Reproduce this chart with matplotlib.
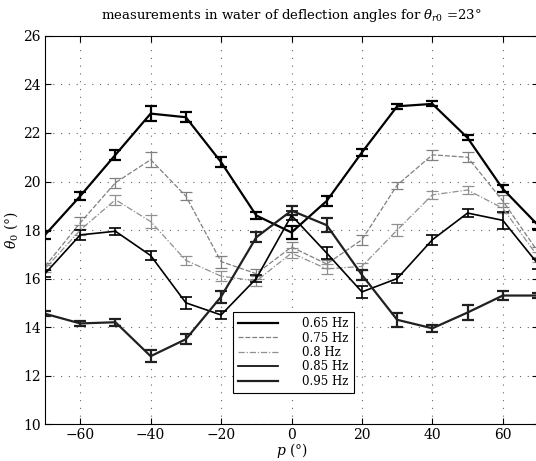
import matplotlib
matplotlib.use("Agg")
import matplotlib.pyplot as plt

# incidence positions p (deg)
p_deg = [-70, -60, -50, -40, -30, -20, -10, 0, 10, 20, 30, 40, 50, 60, 70]

# deflection angle theta_0 (deg) per frequency
theta_065 = [17.8, 19.4, 21.1, 22.8, 22.65, 20.8, 18.6, 17.9, 19.2, 21.2, 23.1, 23.2, 21.8, 19.7, 18.2]
theta_075 = [16.5, 18.3, 19.95, 20.9, 19.4, 16.7, 16.2, 17.3, 16.6, 17.6, 19.85, 21.1, 21.0, 19.2, 17.1]
theta_080 = [16.4, 18.0, 19.25, 18.35, 16.75, 16.1, 15.9, 17.05, 16.4, 16.5, 18.0, 19.45, 19.65, 18.9, 16.9]
theta_085 = [16.2, 17.8, 17.95, 16.95, 15.0, 14.5, 16.0, 18.6, 17.05, 15.45, 16.0, 17.6, 18.7, 18.4, 16.6]
theta_095 = [14.55, 14.15, 14.2, 12.8, 13.5, 15.25, 17.7, 18.8, 18.2, 16.15, 14.3, 13.95, 14.6, 15.3, 15.3]

# error bar half widths
err_065 = [0.15, 0.15, 0.2, 0.3, 0.2, 0.2, 0.15, 0.25, 0.2, 0.15, 0.1, 0.1, 0.1, 0.15, 0.15]
err_075 = [0.15, 0.25, 0.2, 0.3, 0.15, 0.25, 0.2, 0.2, 0.15, 0.2, 0.15, 0.2, 0.2, 0.25, 0.2]
err_080 = [0.15, 0.2, 0.2, 0.25, 0.2, 0.2, 0.2, 0.2, 0.2, 0.15, 0.25, 0.15, 0.15, 0.2, 0.2]
err_085 = [0.15, 0.2, 0.15, 0.2, 0.25, 0.15, 0.15, 0.2, 0.25, 0.25, 0.2, 0.2, 0.15, 0.35, 0.2]
err_095 = [0.1, 0.1, 0.15, 0.25, 0.2, 0.25, 0.2, 0.2, 0.3, 0.2, 0.3, 0.15, 0.3, 0.2, 0.1]

labels = ["0.65 Hz", "0.75 Hz", "0.8 Hz", "0.85 Hz", "0.95 Hz"]

plt.rcParams['font.family'] = ['DejaVu Serif']
plt.rcParams['mathtext.fontset'] = 'dejavuserif'

fig = plt.figure(figsize=(5.36, 4.61), dpi=100)
ax = fig.add_axes([45 / 536, 0.080, 493 / 536, 0.842])

series = [
    (theta_065, err_065, dict(color='black', lw=1.6, ls='-')),
    (theta_075, err_075, dict(color='#808080', lw=0.9, ls=(0, (4, 1.5)))),
    (theta_080, err_080, dict(color='#909090', lw=0.9, ls=(0, (5, 1.5, 1, 1.5)))),
    (theta_085, err_085, dict(color='black', lw=1.2, ls='-')),
    (theta_095, err_095, dict(color='#202020', lw=1.6, ls='-')),
]

for (vals, errs, st), lab in zip(series, labels):
    ax.errorbar(p_deg, vals, yerr=errs, color=st['color'], lw=st['lw'], ls=st['ls'],
                elinewidth=st['lw'], capsize=4, capthick=st['lw'], label=lab)

ax.set_xlim(-70, 70)
ax.set_ylim(10, 26)
ax.set_xticks([-60, -40, -20, 0, 20, 40, 60])
ax.set_yticks([10, 12, 14, 16, 18, 20, 22, 24, 26])
ax.tick_params(direction='in', top=True, right=True, labelsize=10, length=4, pad=3)
ax.grid(True, ls=(0, (1, 6)), color='#666666', lw=0.8)

ax.set_xlabel(r"$p$ (°)", fontsize=10, labelpad=-1)
ax.set_ylabel(r"$\theta_0$ (°)", fontsize=10, labelpad=2)
ax.set_title(r"measurements in water of deflection angles for $\theta_{r0}$ =23°", fontsize=9.5, pad=12)

handles, labs = ax.get_legend_handles_labels()
handles = [h[0] for h in handles]
leg = ax.legend(handles, labs, loc='lower left', bbox_to_anchor=(0.381, 0.08),
                fontsize=8.5, handlelength=3.4, handletextpad=2.0, labelspacing=0.12,
                borderpad=0.45, borderaxespad=0, fancybox=False, framealpha=1, edgecolor='black')
leg.get_frame().set_linewidth(0.8)

fig.savefig("out.png", dpi=100)
